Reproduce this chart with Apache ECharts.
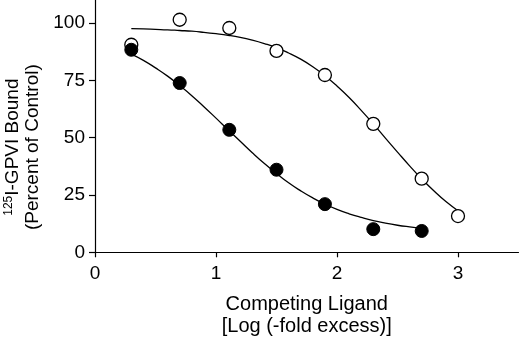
<!DOCTYPE html>
<html>
<head>
<meta charset="utf-8">
<style>
  html, body { margin: 0; padding: 0; background: #fff; }
  #chart { width: 520px; height: 339px; }
</style>
<script src="https://cdn.jsdelivr.net/npm/echarts@6/dist/echarts.min.js"></script>
</head>
<body>
<div id="chart"></div>
<script>
// measured points (log fold excess vs % of control)
var doseLog = [0.3, 0.7, 1.11, 1.5, 1.9, 2.3, 2.7, 3.0];
var openPct = [90.5, 101.4, 97.8, 87.8, 77.3, 56.0, 32.1, 15.8];
var filledPct = [88.3, 73.8, 53.4, 36.0, 21.0, 10.1, 9.3];

// fitted curves
var curveX = [0.3, 0.4, 0.5, 0.6, 0.7, 0.8, 0.9, 1.0, 1.1, 1.2, 1.3, 1.4, 1.5, 1.6,
  1.7, 1.8, 1.9, 2.0, 2.1, 2.2, 2.3, 2.4, 2.5, 2.6, 2.7, 2.8, 2.9, 3.0];
var openCurve = [97.5, 97.4, 97.2, 97.0, 96.7, 96.4, 95.9, 95.3, 94.6, 93.7, 92.5, 91.0,
  89.2, 86.9, 84.2, 80.9, 77.0, 72.5, 67.5, 61.9, 56.0, 49.8, 43.7, 37.7, 32.0, 26.8, 22.1, 18.1];
var filledCurve = [86.4, 83.7, 80.4, 76.8, 72.7, 68.3, 63.5, 58.5, 53.4, 48.4, 43.4, 38.7,
  34.4, 30.3, 26.8, 23.7, 21.0, 18.7, 16.8, 15.2, 13.8, 12.7, 11.8, 11.1, 10.5];

var xTicks = [0, 1, 2, 3];
var yTicks = [0, 25, 50, 75, 100];

function pairs(xs, ys) {
  var out = [];
  for (var i = 0; i < ys.length; i++) out.push([xs[i], ys[i]]);
  return out;
}

var chart = echarts.init(document.getElementById('chart'));
var font = 'Liberation Sans';

var option = {
  animation: false,
  backgroundColor: '#fff',
  textStyle: { fontFamily: font, color: '#000' },
  grid: { left: 95, right: 1.5, top: 0, bottom: 86.7, outerBoundsMode: 'none', containLabel: false },
  xAxis: {
    type: 'value',
    min: 0,
    max: 3.5,
    interval: 1,
    splitLine: { show: false },
    axisLine: { lineStyle: { color: '#000', width: 1.2 } },
    axisTick: { customValues: xTicks, length: 5, lineStyle: { color: '#000', width: 1.2 } },
    axisLabel: { customValues: xTicks, color: '#000', fontSize: 19, fontFamily: font, margin: 12 },
    name: 'Competing Ligand\n[Log (-fold excess)]',
    nameLocation: 'middle',
    nameGap: 41,
    nameTextStyle: { color: '#000', fontSize: 20, fontFamily: font, lineHeight: 22 }
  },
  yAxis: {
    type: 'value',
    min: 0,
    max: 110,
    interval: 25,
    splitLine: { show: false },
    axisLine: { show: true, lineStyle: { color: '#000', width: 1.2 } },
    axisTick: { show: true, customValues: yTicks, length: 6, lineStyle: { color: '#000', width: 1.2 } },
    axisLabel: { customValues: yTicks, color: '#000', fontSize: 19, fontFamily: font, margin: 10 },
    name: '{sup|125}{t|I-GPVI Bound}\n{t|(Percent of Control)}',
    nameLocation: 'middle',
    nameGap: 44,
    nameTextStyle: {
      padding: [0, 42, 0, 0],
      rich: {
        sup: { fontSize: 12, fontFamily: font, color: '#000', verticalAlign: 'top', lineHeight: 20, padding: [0, 0, 8, 0] },
        t: { fontSize: 19, fontFamily: font, color: '#000', lineHeight: 20 }
      }
    }
  },
  series: [
    {
      type: 'line',
      data: pairs(curveX, openCurve),
      smooth: true,
      showSymbol: false,
      lineStyle: { color: '#000', width: 1.3 },
      z: 1
    },
    {
      type: 'line',
      data: pairs(curveX, filledCurve),
      smooth: true,
      showSymbol: false,
      lineStyle: { color: '#000', width: 1.3 },
      z: 1
    },
    {
      type: 'scatter',
      data: pairs(doseLog, openPct),
      symbol: 'circle',
      symbolSize: 13,
      itemStyle: { color: '#fff', borderColor: '#000', borderWidth: 1.3, opacity: 1 },
      z: 3
    },
    {
      type: 'scatter',
      data: pairs(doseLog, filledPct),
      symbol: 'circle',
      symbolSize: 13,
      itemStyle: { color: '#000', borderColor: '#000', borderWidth: 1, opacity: 1 },
      z: 4
    }
  ]
};

chart.setOption(option);
</script>
</body>
</html>
